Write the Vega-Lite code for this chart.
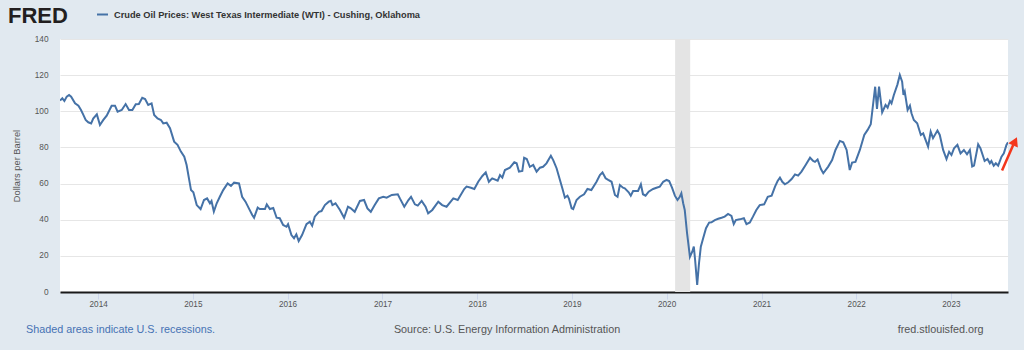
{
"$schema": "https://vega.github.io/schema/vega-lite/v6.json",
"width": 948,
"height": 253,
"autosize": {"type": "none"},
"padding": {"left": 60, "top": 39, "right": 16, "bottom": 58},
"background": "#e1e9f0",
"config": {"view": {"fill": "#ffffff", "stroke": null}, "font": "Liberation Sans"},
"encoding": {
  "x": {"field": "date", "type": "temporal",
    "scale": {"type": "utc", "domain": [{"year": 2013, "month": 8, "date": 7, "utc": true}, {"year": 2023, "month": 8, "date": 9, "utc": true}]},
    "axis": {"title": null, "format": "%Y", "tickCount": {"interval": "year", "step": 1}, "grid": false, "domainColor": "#1a1a1a", "domainWidth": 2, "tickColor": "#ccd6eb", "tickSize": 7, "tickWidth": 1, "labelPadding": 1, "labelFontSize": 8.2, "labelColor": "#555555", "labelFont": "Liberation Sans", "labelFlush": false, "labelOverlap": false}},
  "y": {"field": "value", "type": "quantitative",
    "scale": {"domain": [0, 140], "nice": false, "zero": false},
    "axis": {"title": "Dollars per Barrel", "values": [0, 20, 40, 60, 80, 100, 120, 140], "domain": false, "ticks": false, "grid": true, "gridColor": "#e6e6e6", "gridWidth": 1, "labelFontSize": 8.3, "labelColor": "#555555", "labelPadding": 12, "labelFont": "Liberation Sans", "titleFont": "Liberation Sans", "titleFontSize": 9.3, "titleFontWeight": "normal", "titleColor": "#555555", "titlePadding": 13}}
},
"layer": [
  {
    "data": {"values": [{"date": "2020-02-03", "end": "2020-04-01", "value": 140, "lo": 0}]},
    "mark": {"type": "rect", "color": "#e4e4e4"},
    "encoding": {"x2": {"field": "end"}, "y2": {"field": "lo"}}
  },
  {
    "data": {"values": [
{"date":"2013-08-07","value":105.9},{"date":"2013-08-16","value":107.2},{"date":"2013-08-24","value":105.7},{"date":"2013-09-02","value":108.1},{"date":"2013-09-11","value":109.0},{"date":"2013-09-19","value":108.1},{"date":"2013-10-04","value":104.4},{"date":"2013-10-17","value":103.1},{"date":"2013-10-27","value":100.7},{"date":"2013-11-05","value":98.0},{"date":"2013-11-14","value":95.2},{"date":"2013-11-24","value":93.9},{"date":"2013-12-05","value":93.3},{"date":"2013-12-13","value":96.0},{"date":"2013-12-27","value":98.3},
{"date":"2014-01-08","value":92.4},{"date":"2014-01-21","value":95.2},{"date":"2014-02-03","value":97.6},{"date":"2014-02-22","value":103.1},{"date":"2014-03-07","value":103.1},{"date":"2014-03-17","value":99.8},{"date":"2014-04-02","value":100.7},{"date":"2014-04-17","value":104.0},{"date":"2014-04-30","value":100.7},{"date":"2014-05-13","value":100.7},{"date":"2014-05-26","value":103.9},{"date":"2014-06-07","value":104.0},{"date":"2014-06-20","value":107.5},{"date":"2014-07-01","value":106.8},{"date":"2014-07-13","value":103.5},{"date":"2014-07-26","value":104.4},{"date":"2014-08-05","value":98.0},{"date":"2014-08-18","value":96.0},{"date":"2014-08-31","value":95.2},{"date":"2014-09-09","value":93.3},{"date":"2014-09-22","value":93.7},{"date":"2014-10-05","value":90.6},{"date":"2014-10-21","value":83.2},{"date":"2014-11-03","value":81.4},{"date":"2014-11-16","value":77.7},{"date":"2014-11-29","value":74.9},{"date":"2014-12-08","value":70.3},{"date":"2014-12-17","value":62.9},{"date":"2014-12-25","value":56.4},
{"date":"2015-01-03","value":55.2},{"date":"2015-01-16","value":48.1},{"date":"2015-01-31","value":45.9},{"date":"2015-02-13","value":50.9},{"date":"2015-02-25","value":51.8},{"date":"2015-03-08","value":49.1},{"date":"2015-03-14","value":50.4},{"date":"2015-03-23","value":44.5},{"date":"2015-04-03","value":49.1},{"date":"2015-04-15","value":52.7},{"date":"2015-04-28","value":56.4},{"date":"2015-05-15","value":60.1},{"date":"2015-05-28","value":58.7},{"date":"2015-06-09","value":60.5},{"date":"2015-06-28","value":60.1},{"date":"2015-07-10","value":52.7},{"date":"2015-07-23","value":50.0},{"date":"2015-08-05","value":46.3},{"date":"2015-08-18","value":42.6},{"date":"2015-08-25","value":41.1},{"date":"2015-09-08","value":46.7},{"date":"2015-09-16","value":45.9},{"date":"2015-10-06","value":45.9},{"date":"2015-10-13","value":48.5},{"date":"2015-10-25","value":45.9},{"date":"2015-11-07","value":46.5},{"date":"2015-11-20","value":41.1},{"date":"2015-12-02","value":40.8},{"date":"2015-12-15","value":37.1},{"date":"2015-12-28","value":36.1},
{"date":"2016-01-03","value":37.5},{"date":"2016-01-16","value":31.5},{"date":"2016-01-26","value":29.7},{"date":"2016-02-04","value":31.9},{"date":"2016-02-13","value":28.2},{"date":"2016-02-26","value":31.5},{"date":"2016-03-14","value":37.5},{"date":"2016-03-27","value":38.9},{"date":"2016-04-05","value":36.7},{"date":"2016-04-15","value":41.7},{"date":"2016-05-01","value":44.4},{"date":"2016-05-11","value":44.8},{"date":"2016-05-24","value":48.1},{"date":"2016-06-08","value":50.0},{"date":"2016-06-16","value":50.5},{"date":"2016-06-22","value":48.1},{"date":"2016-07-04","value":49.1},{"date":"2016-07-21","value":45.4},{"date":"2016-08-06","value":41.1},{"date":"2016-08-21","value":47.2},{"date":"2016-09-01","value":46.3},{"date":"2016-09-16","value":44.4},{"date":"2016-10-06","value":50.4},{"date":"2016-10-22","value":50.9},{"date":"2016-11-04","value":46.3},{"date":"2016-11-17","value":44.4},{"date":"2016-12-02","value":48.1},{"date":"2016-12-18","value":51.8},
{"date":"2017-01-04","value":52.7},{"date":"2017-01-17","value":52.2},{"date":"2017-02-06","value":53.7},{"date":"2017-03-01","value":54.1},{"date":"2017-03-09","value":51.8},{"date":"2017-03-26","value":47.2},{"date":"2017-04-11","value":50.9},{"date":"2017-04-21","value":52.7},{"date":"2017-05-06","value":48.5},{"date":"2017-05-17","value":47.8},{"date":"2017-06-01","value":50.4},{"date":"2017-06-16","value":47.2},{"date":"2017-06-26","value":43.5},{"date":"2017-07-12","value":45.4},{"date":"2017-08-04","value":50.0},{"date":"2017-08-19","value":48.1},{"date":"2017-09-05","value":47.2},{"date":"2017-10-01","value":51.8},{"date":"2017-10-18","value":50.9},{"date":"2017-11-12","value":57.0},{"date":"2017-11-21","value":58.3},{"date":"2017-12-08","value":57.7},{"date":"2017-12-21","value":57.0},
{"date":"2018-01-05","value":61.0},{"date":"2018-01-21","value":64.2},{"date":"2018-02-03","value":66.2},{"date":"2018-02-15","value":61.0},{"date":"2018-02-28","value":62.9},{"date":"2018-03-21","value":61.6},{"date":"2018-03-30","value":64.7},{"date":"2018-04-08","value":63.3},{"date":"2018-04-18","value":67.5},{"date":"2018-05-07","value":68.8},{"date":"2018-05-24","value":71.8},{"date":"2018-06-02","value":71.2},{"date":"2018-06-11","value":66.6},{"date":"2018-06-24","value":67.0},{"date":"2018-07-01","value":74.3},{"date":"2018-07-11","value":73.6},{"date":"2018-07-23","value":69.3},{"date":"2018-08-05","value":70.3},{"date":"2018-08-18","value":66.6},{"date":"2018-08-31","value":68.8},{"date":"2018-09-12","value":69.3},{"date":"2018-09-25","value":71.2},{"date":"2018-10-12","value":75.4},{"date":"2018-10-21","value":73.0},{"date":"2018-11-03","value":68.5},{"date":"2018-11-16","value":62.0},{"date":"2018-11-26","value":57.0},{"date":"2018-12-05","value":52.2},{"date":"2018-12-15","value":53.3},{"date":"2018-12-21","value":51.5},{"date":"2018-12-31","value":46.3},
{"date":"2019-01-06","value":45.9},{"date":"2019-01-19","value":50.9},{"date":"2019-02-01","value":52.7},{"date":"2019-02-17","value":54.1},{"date":"2019-03-02","value":57.0},{"date":"2019-03-17","value":56.4},{"date":"2019-04-06","value":61.0},{"date":"2019-04-19","value":64.7},{"date":"2019-04-29","value":66.2},{"date":"2019-05-11","value":62.9},{"date":"2019-05-21","value":62.0},{"date":"2019-06-03","value":61.0},{"date":"2019-06-16","value":53.7},{"date":"2019-06-26","value":52.7},{"date":"2019-07-05","value":59.2},{"date":"2019-07-17","value":57.7},{"date":"2019-07-24","value":57.4},{"date":"2019-08-08","value":55.2},{"date":"2019-08-16","value":53.3},{"date":"2019-08-25","value":55.9},{"date":"2019-09-13","value":55.9},{"date":"2019-09-24","value":59.6},{"date":"2019-10-02","value":54.1},{"date":"2019-10-12","value":53.3},{"date":"2019-10-24","value":55.5},{"date":"2019-11-10","value":57.0},{"date":"2019-11-23","value":57.7},{"date":"2019-12-06","value":58.3},{"date":"2019-12-19","value":61.0},
{"date":"2020-01-01","value":62.0},{"date":"2020-01-11","value":61.4},{"date":"2020-01-22","value":57.7},{"date":"2020-02-02","value":53.3},{"date":"2020-02-12","value":50.9},{"date":"2020-02-21","value":52.7},{"date":"2020-02-27","value":54.6},{"date":"2020-03-05","value":49.1},{"date":"2020-03-11","value":45.4},{"date":"2020-03-20","value":32.5},{"date":"2020-03-31","value":19.5},{"date":"2020-04-09","value":22.3},{"date":"2020-04-15","value":25.1},{"date":"2020-04-20","value":17.7},{"date":"2020-04-28","value":3.9},{"date":"2020-05-05","value":15.9},{"date":"2020-05-12","value":25.1},{"date":"2020-05-21","value":29.7},{"date":"2020-06-01","value":35.3},{"date":"2020-06-13","value":38.4},{"date":"2020-06-22","value":38.6},{"date":"2020-07-05","value":39.8},{"date":"2020-07-18","value":40.5},{"date":"2020-07-31","value":41.1},{"date":"2020-08-12","value":41.7},{"date":"2020-08-25","value":43.2},{"date":"2020-09-07","value":42.1},{"date":"2020-09-16","value":37.6},{"date":"2020-09-24","value":39.8},{"date":"2020-10-09","value":40.2},{"date":"2020-10-25","value":40.8},{"date":"2020-11-04","value":37.6},{"date":"2020-11-17","value":38.5},{"date":"2020-11-29","value":41.7},{"date":"2020-12-12","value":45.4},{"date":"2020-12-25","value":48.1},
{"date":"2021-01-11","value":48.5},{"date":"2021-01-25","value":52.7},{"date":"2021-02-09","value":53.3},{"date":"2021-02-22","value":58.3},{"date":"2021-03-04","value":61.4},{"date":"2021-03-13","value":63.3},{"date":"2021-03-22","value":61.0},{"date":"2021-04-01","value":59.6},{"date":"2021-04-14","value":60.7},{"date":"2021-04-27","value":62.5},{"date":"2021-05-10","value":65.1},{"date":"2021-05-22","value":64.4},{"date":"2021-06-04","value":66.6},{"date":"2021-06-20","value":70.3},{"date":"2021-07-07","value":74.3},{"date":"2021-07-19","value":72.5},{"date":"2021-07-26","value":72.0},{"date":"2021-08-05","value":73.3},{"date":"2021-08-18","value":68.0},{"date":"2021-08-27","value":65.7},{"date":"2021-09-15","value":69.4},{"date":"2021-09-30","value":73.0},{"date":"2021-10-13","value":78.6},{"date":"2021-10-30","value":83.6},{"date":"2021-11-12","value":82.8},{"date":"2021-11-25","value":78.6},{"date":"2021-12-07","value":67.5},{"date":"2021-12-16","value":71.6},{"date":"2021-12-29","value":72.0},
{"date":"2022-01-15","value":78.6},{"date":"2022-02-01","value":86.9},{"date":"2022-02-14","value":89.7},{"date":"2022-02-26","value":92.8},{"date":"2022-03-15","value":113.6},{"date":"2022-03-22","value":101.3},{"date":"2022-03-30","value":113.6},{"date":"2022-04-11","value":99.4},{"date":"2022-04-24","value":103.5},{"date":"2022-05-02","value":102.0},{"date":"2022-05-11","value":105.7},{"date":"2022-05-17","value":104.4},{"date":"2022-05-26","value":109.0},{"date":"2022-06-09","value":114.9},{"date":"2022-06-18","value":120.1},{"date":"2022-06-27","value":116.4},{"date":"2022-07-02","value":109.0},{"date":"2022-07-07","value":110.9},{"date":"2022-07-18","value":100.7},{"date":"2022-07-27","value":103.1},{"date":"2022-08-02","value":98.9},{"date":"2022-08-11","value":95.2},{"date":"2022-08-24","value":93.4},{"date":"2022-09-07","value":86.9},{"date":"2022-09-16","value":87.8},{"date":"2022-10-05","value":80.4},{"date":"2022-10-15","value":88.7},{"date":"2022-10-24","value":85.1},{"date":"2022-11-10","value":89.3},{"date":"2022-11-19","value":86.9},{"date":"2022-12-02","value":78.6},{"date":"2022-12-15","value":73.6},{"date":"2022-12-25","value":77.6},
{"date":"2023-01-03","value":75.8},{"date":"2023-01-13","value":79.5},{"date":"2023-01-26","value":81.4},{"date":"2023-02-07","value":76.7},{"date":"2023-02-20","value":78.6},{"date":"2023-03-04","value":76.2},{"date":"2023-03-15","value":78.6},{"date":"2023-03-24","value":69.4},{"date":"2023-03-31","value":69.9},{"date":"2023-04-16","value":81.7},{"date":"2023-04-25","value":79.5},{"date":"2023-05-11","value":72.5},{"date":"2023-05-22","value":73.6},{"date":"2023-05-31","value":71.2},{"date":"2023-06-06","value":72.5},{"date":"2023-06-15","value":69.9},{"date":"2023-06-23","value":71.2},{"date":"2023-07-02","value":69.9},{"date":"2023-07-15","value":74.9},{"date":"2023-07-24","value":76.7},{"date":"2023-08-03","value":81.4},{"date":"2023-08-09","value":82.8}
    ]},
    "mark": {"type": "line", "strokeWidth": 2, "clip": true},
    "encoding": {
      "color": {"datum": "Crude Oil Prices: West Texas Intermediate (WTI) - Cushing, Oklahoma", "type": "nominal",
        "scale": {"range": ["#4572a7"]},
        "legend": {"orient": "none", "legendX": -52, "legendY": -31, "title": "FRED", "titleOrient": "left", "titleFontSize": 22, "titleFont": "Liberation Sans", "titleFontWeight": "bold", "titleColor": "#231f20", "titlePadding": 28, "titleBaseline": "line-top", "titleLineHeight": 6, "symbolType": "stroke", "symbolStrokeWidth": 2, "symbolSize": 121, "labelFont": "Liberation Sans", "labelFontSize": 9.25, "labelFontWeight": "bold", "labelColor": "#333333", "labelLimit": 600, "labelOffset": 5, "padding": 0}}
    }
  },
  {
    "data": {"values": [{"date": "2023-07-17", "value": 67.2}, {"date": "2023-08-29", "value": 81.4}]},
    "mark": {"type": "line", "color": "#f4361b", "strokeWidth": 2.5, "clip": false}
  },
  {
    "data": {"values": [{"date": "2023-09-05", "value": 83.4}]},
    "mark": {"type": "point", "shape": "triangle-up", "filled": true, "color": "#f4361b", "opacity": 1, "size": 110, "angle": 25, "clip": false}
  },
  {
    "data": {"values": [{"date": "2013-03-29", "value": -21.3, "label": "Shaded areas indicate U.S. recessions."}]},
    "mark": {"type": "text", "align": "left", "baseline": "middle", "font": "Liberation Sans", "fontSize": 10.8, "color": "#4672b4", "clip": false},
    "encoding": {"text": {"field": "label"}}
  },
  {
    "data": {"values": [{"date": "2017-02-14", "value": -21.3, "label": "Source: U.S. Energy Information Administration"}, {"date": "2022-06-10", "value": -21.3, "label": "fred.stlouisfed.org"}]},
    "mark": {"type": "text", "align": "left", "baseline": "middle", "font": "Liberation Sans", "fontSize": 10.8, "color": "#555555", "clip": false},
    "encoding": {"text": {"field": "label"}}
  }
]
}
